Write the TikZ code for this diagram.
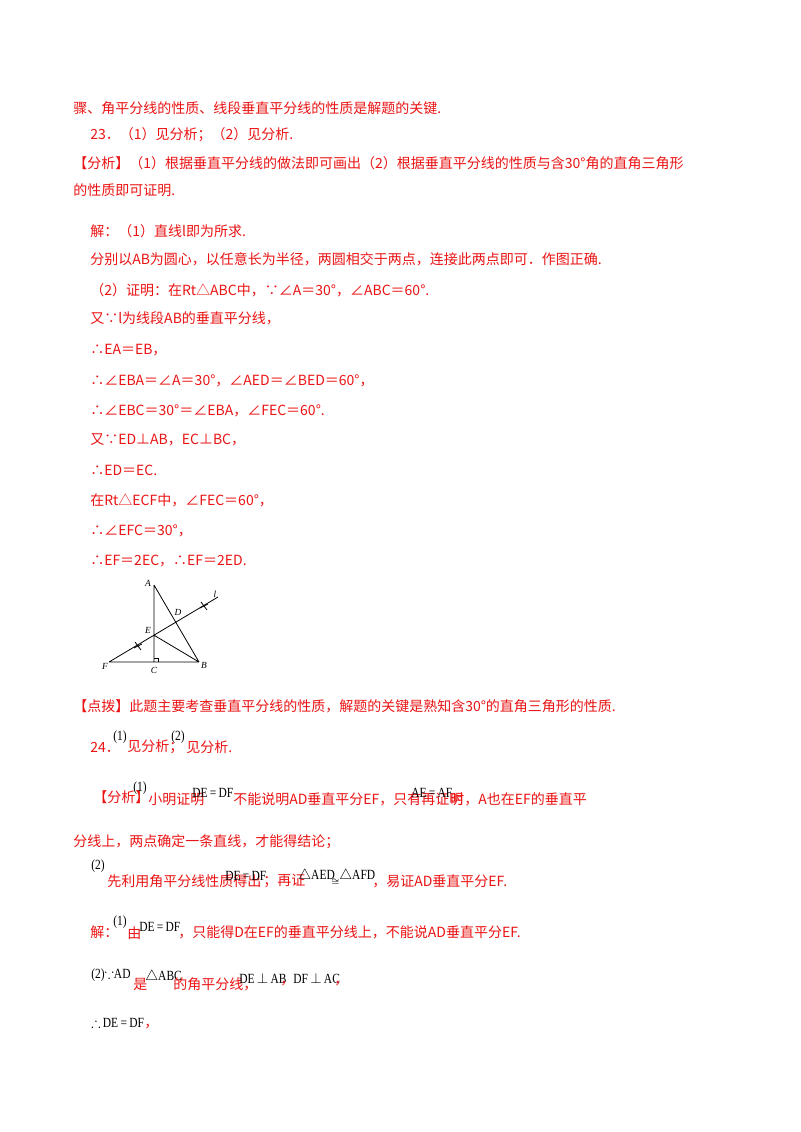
\documentclass[tikz,border=0pt]{standalone}
\usepackage{amssymb}
\usepackage{fontspec}
\setmainfont{Liberation Serif}
\newfontfamily\mth[FakeStretch=0.82]{Liberation Serif}
\newfontfamily\cjk{Noto Sans CJK SC}
\definecolor{rd}{RGB}{235,20,20}
\begin{document}
\begin{tikzpicture}[x=0.75pt,y=-0.75pt,
 t/.style={anchor=west,inner sep=0,text=rd,font=\cjk\fontsize{10.5pt}{12pt}\selectfont},
 m/.style={anchor=west,inner sep=0,text=black,font=\mth\fontsize{10.5pt}{12pt}\selectfont},
 ln/.style={line width=0.6pt}]
\useasboundingbox (0,0) rectangle (800,1132);
\fill[white] (0,0) rectangle (800,1132);
\node[t] (l1) at (73,108) {骤、角平分线的性质、线段垂直平分线的性质是解题的关键.};
\node[t] (l2) at (90,135) {23．（1）见分析；（2）见分析.};
\node[t] (l3) at (73,163) {【分析】（1）根据垂直平分线的做法即可画出（2）根据垂直平分线的性质与含30°角的直角三角形};
\node[t] (l4) at (73,190) {的性质即可证明.};
\node[t] (l5) at (90,231) {解：（1）直线l即为所求.};
\node[t] (l6) at (90,259) {分别以AB为圆心，以任意长为半径，两圆相交于两点，连接此两点即可．作图正确.};
\node[t] (l7) at (90,290) {（2）证明：在Rt△ABC中，∵∠A＝30°，∠ABC＝60°.};
\node[t] (l8) at (90,318) {又∵l为线段AB的垂直平分线，};
\node[t] (l9) at (90,350) {∴EA＝EB，};
\node[t] (l10) at (90,381) {∴∠EBA＝∠A＝30°，∠AED＝∠BED＝60°，};
\node[t] (l11) at (90,411) {∴∠EBC＝30°＝∠EBA，∠FEC＝60°.};
\node[t] (l12) at (90,440) {又∵ED⊥AB，EC⊥BC，};
\node[t] (l13) at (90,470) {∴ED＝EC.};
\node[t] (l14) at (90,500) {在Rt△ECF中，∠FEC＝60°，};
\node[t] (l15) at (90,531) {∴∠EFC＝30°，};
\node[t] (l16) at (90,561) {∴EF＝2EC，∴EF＝2ED.};
% figure
\coordinate (A) at (154,585);
\coordinate (C) at (154,662);
\coordinate (B) at (199,662);
\coordinate (F) at (109,662);
\coordinate (L) at (218,597);
\coordinate (E) at (154,635.2);
\draw[ln] (A) -- (C) (F) -- (B) (A) -- (B) (E) -- (B) (F) -- (L);
\draw[ln] (154,658) -- (158,658) -- (158,662);
\draw[ln] (135,642) -- (141,650) (134,648) -- (142,644);
\draw[ln] (201,602) -- (207,610) (200,608) -- (208,604);
\begin{scope}[font=\itshape\fontsize{7pt}{8pt}\selectfont]
\node (nA) at (148,583) {A};
\node (nB) at (204,665) {B};
\node (nC) at (154,670) {C};
\node (nF) at (105,666) {F};
\node (nE) at (148,630) {E};
\node (nD) at (178,612) {D};
\node (nl) at (215,594) {l};
\end{scope}
\node[t] (l17) at (73,706) {【点拨】此题主要考查垂直平分线的性质，解题的关键是熟知含30°的直角三角形的性质.};
\node[t] (l18a) at (90,747) {24．};
\node[m] (l18b) at (113,737) {(1)};
\node[t] (l18c) at (127,747) {见分析；};
\node[m] (l18d) at (171,737) {(2)};
\node[t] (l18e) at (186,747) {见分析.};
\node[t] (l19a) at (93,797) {【分析】};
\node[m] (l19b) at (133,788) {(1)};
\node[t] (l19c) at (148,799) {小明证明};
\node[m] (l19d) at (192,793) {DE\,=\,DF};
\node[t] (l19e) at (233,799) {不能说明AD垂直平分EF，只有再证明};
\node[m] (l19f) at (411,793) {AE\,=\,AF};
\node[t] (l19g) at (450,799) {时，A也在EF的垂直平};
\node[t] (l20) at (73,842) {分线上，两点确定一条直线，才能得结论；};
\node[m] (l21a) at (91,866) {(2)};
\node[t] (l21b) at (107,881) {先利用角平分线性质得出};
\node[m] (l21c) at (225,876) {DE\,=\,DF};
\node[t] (l21d) at (263,881) {；再证};
\node[m] (l21e) at (298,876) {$\triangle$AED};
\node[m] (l21f) at (331,882) {\scriptsize$\cong$};
\node[m] (l21g) at (339,876) {$\triangle$AFD};
\node[t] (l21h) at (372,881) {，易证AD垂直平分EF.};
\node[t] (l22a) at (90,932) {解：};
\node[m] (l22b) at (113,922) {(1)};
\node[t] (l22c) at (127,933) {由};
\node[m] (l22d) at (139,927) {DE\,=\,DF};
\node[t] (l22e) at (178,932) {，只能得D在EF的垂直平分线上，不能说AD垂直平分EF.};
\node[m] (l23a) at (91,975) {(2)$\because$AD};
\node[t] (l23b) at (133,984) {是};
\node[m] (l23c) at (145,977) {$\triangle$ABC};
\node[t] (l23d) at (173,984) {的角平分线，};
\node[m] (l23e) at (239,978) {DE\,$\perp$\,AB};
\node[t] (l23f) at (280,984) {，};
\node[m] (l23g) at (293,978) {DF\,$\perp$\,AC};
\node[t] (l23h) at (334,984) {，};
\node[m] (l24a) at (91,1023) {$\therefore$\,DE\,=\,DF};
\node[t] (l24b) at (144,1027) {，};
\end{tikzpicture}
\end{document}
